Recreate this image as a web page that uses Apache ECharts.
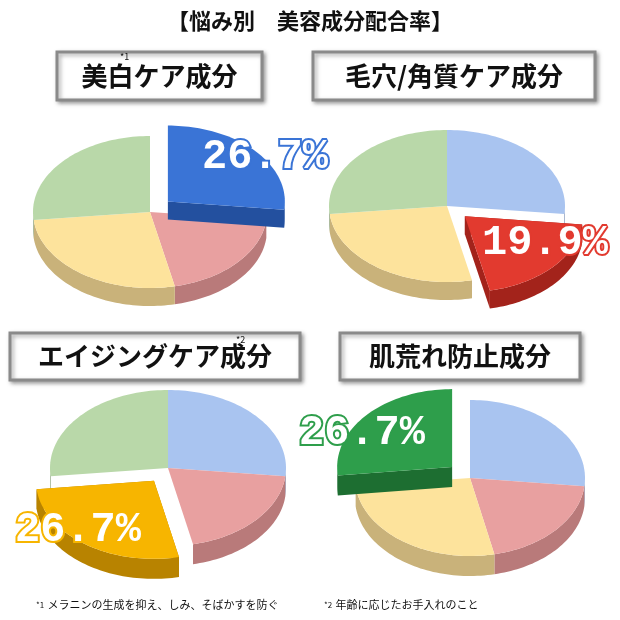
<!DOCTYPE html>
<html><head><meta charset="utf-8">
<script src="https://cdn.jsdelivr.net/npm/echarts@6/dist/echarts.min.js"></script>
<style>html,body{margin:0;padding:0;background:#fff}#c{width:620px;height:620px}</style>
</head><body><div id="c"></div>
<script>
var categories = ['blue', 'red', 'yellow', 'green'];
var panelTitles = ['美白ケア成分', '毛穴/角質ケア成分', 'エイジングケア成分', '肌荒れ防止成分'];
var values = [26.7, 19.9, 26.7, 26.7];
var highlighted = [0, 1, 2, 3];
var labels = ['26.7%', '19.9%', '26.7%', '26.7%'];

var light = ['#a9c4f0', '#e8a0a0', '#fde39c', '#b9d8a9'];
var lightSide = ['#8497b8', '#b97a7a', '#c9b27a', '#8ea683'];
var strong = ['#3a74d6', '#e23a2f', '#f7b500', '#2e9e4b'];
var strongSide = ['#23509f', '#a3231b', '#b88300', '#1d6e31'];

var layout = [
  {cx:150, cy:212, rx:117, ry:76, d:18, box:[57,52,205,48], lx:265, ly:157},
  {cx:447, cy:206, rx:118, ry:76, d:18, box:[313,52,282,48], lx:545, ly:243},
  {cx:168, cy:468, rx:118, ry:78, d:20, box:[10,333,290,47], lx:78, ly:530},
  {cx:470, cy:478, rx:115, ry:78, d:20, box:[340,333,240,47], lx:362, ly:433}
];

function pt(L, t, ox, oy, dz){ return [L.cx + ox + L.rx*Math.sin(t), L.cy + oy - L.ry*Math.cos(t) + (dz||0)]; }
function arcPts(L, a, b, ox, oy, dz){ var p=[], n=Math.max(4, Math.ceil((b-a)/0.03)); for(var i=0;i<=n;i++){p.push(pt(L, a+(b-a)*i/n, ox, oy, dz));} return p; }

function renderPie(pi){
  return function(params, api){
    var L = layout[pi], total = values.reduce(function(s,v){return s+v;},0);
    var angs=[], acc=0;
    values.forEach(function(v){ var a=acc/total*2*Math.PI; acc+=v; angs.push([a, acc/total*2*Math.PI]); });
    var children=[];
    function slice(k){
      var a=angs[k][0], b=angs[k][1], ex=(k===highlighted[pi]);
      var mid=(a+b)/2, off=ex?24:0;
      var ox=off*Math.sin(mid), oy=-off*Math.cos(mid)*L.ry/L.rx;
      var top=ex?strong[k]:light[k], side=ex?strongSide[k]:lightSide[k];
      var c=[L.cx+ox, L.cy+oy];
      if(ex){
        [a,b].forEach(function(t){
          var e=pt(L,t,ox,oy);
          children.push({type:'polygon',shape:{points:[c,e,[e[0],e[1]+L.d],[c[0],c[1]+L.d]]},style:{fill:side}});
        });
      }
      var s=Math.max(a,Math.PI/2), e2=Math.min(b,Math.PI*1.5);
      if(e2>s){
        var up=arcPts(L,s,e2,ox,oy,0), dn=arcPts(L,s,e2,ox,oy,L.d).reverse();
        children.push({type:'polygon',shape:{points:up.concat(dn)},style:{fill:side}});
      }
      children.push({type:'polygon',shape:{points:[c].concat(arcPts(L,a,b,ox,oy,0))},style:{fill:top}});
    }
    for(var k=0;k<values.length;k++){ if(k!==highlighted[pi]) slice(k); }
    slice(highlighted[pi]);
    return {type:'group',children:children};
  };
}

var series = layout.map(function(L,i){
  return {type:'custom', coordinateSystem:'none', data:[values], renderItem: renderPie(i), silent:true};
});

var graphic = [
  {type:'text', left:'center', top:10, style:{text:'【悩み別　美容成分配合率】', font:'bold 22px "Noto Sans CJK JP"', fill:'#111'}}
];
layout.forEach(function(L,i){
  var b=L.box;
  graphic.push({type:'rect', shape:{x:b[0],y:b[1],width:b[2],height:b[3]}, style:{fill:'#fff', stroke:'#8a8a8a', lineWidth:3, shadowBlur:4, shadowColor:'rgba(0,0,0,0.35)', shadowOffsetX:2, shadowOffsetY:2}, z:1});
  graphic.push({type:'text', x:b[0]+b[2]/2, y:b[1]+b[3]/2, style:{text:panelTitles[i], font:'bold 26px "Noto Sans CJK JP"', fill:'#111', align:'center', verticalAlign:'middle'}, z:2});
  var k=highlighted[i];
  graphic.push({type:'text', x:L.lx, y:L.ly, style:{text:labels[i], font:'bold 42px "Liberation Mono"', fill:'#fff', stroke:strong[k], lineWidth:4, align:'center', verticalAlign:'middle'}, z:10});
});
graphic.push({type:'text', x:120, y:52, style:{text:'*1', font:'9px "Noto Sans CJK JP"', fill:'#111'}, z:3});
graphic.push({type:'text', x:236, y:335, style:{text:'*2', font:'9px "Noto Sans CJK JP"', fill:'#111'}, z:3});
graphic.push({type:'text', x:36, y:599, style:{rich:{s:{font:'8px "Noto Sans CJK JP"',fill:'#111'},t:{font:'11px "Noto Sans CJK JP"',fill:'#111'}}, text:'{s|*1} {t|メラニンの生成を抑え、しみ、そばかすを防ぐ}'}, z:3});
graphic.push({type:'text', x:324, y:599, style:{rich:{s:{font:'8px "Noto Sans CJK JP"',fill:'#111'},t:{font:'11px "Noto Sans CJK JP"',fill:'#111'}}, text:'{s|*2} {t|年齢に応じたお手入れのこと}'}, z:3});

var chart = echarts.init(document.getElementById('c'));
chart.setOption({animation:false, series:series, graphic:graphic});
</script></body></html>
